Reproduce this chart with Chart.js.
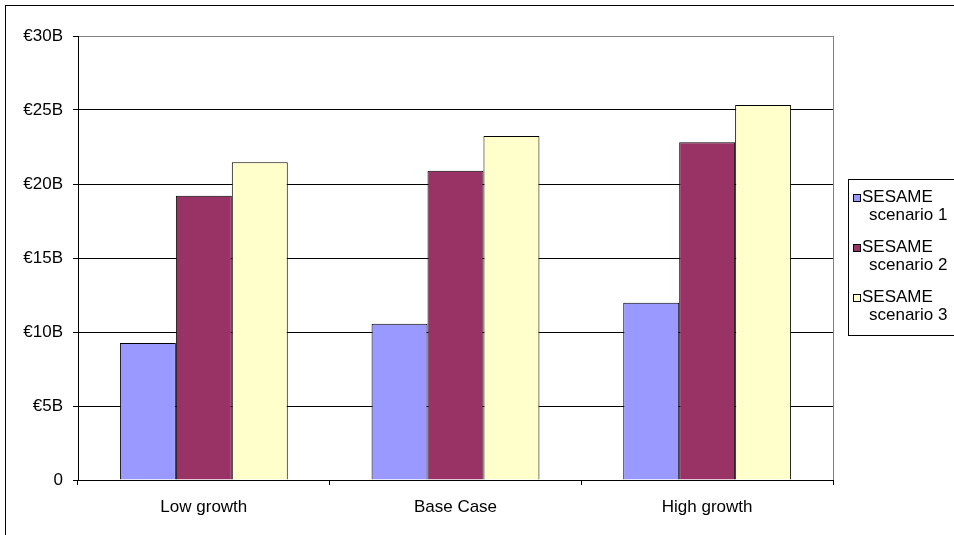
<!DOCTYPE html>
<html>
<head>
<meta charset="utf-8">
<script src="https://cdn.jsdelivr.net/npm/chart.js@4"></script>
<style>
  html, body { margin: 0; padding: 0; background: #fff; }
  #wrap { width: 954px; height: 535px; position: relative; }
</style>
</head>
<body>
<div id="wrap"><canvas id="c" width="954" height="535"></canvas></div>
<script>
const categories = ["Low growth", "Base Case", "High growth"];
const seriesNames = [["SESAME", "scenario 1"], ["SESAME", "scenario 2"], ["SESAME", "scenario 3"]];
const scenario1 = [9.26, 10.56, 11.98];
const scenario2 = [19.2, 20.9, 22.82];
const scenario3 = [21.47, 23.24, 25.34];
const yTicks = [0, 5, 10, 15, 20, 25, 30];
const colors = ["#9999FF", "#993366", "#FFFFCC"];

const FONT = "Liberation Sans, Arial, sans-serif";

const decor = {
  id: "decor",
  beforeDraw(chart) {
    const ctx = chart.ctx;
    ctx.save();
    ctx.fillStyle = "#fff";
    ctx.fillRect(0, 0, chart.width, chart.height);
    ctx.restore();
  },
  afterDraw(chart) {
    const ctx = chart.ctx;
    const a = chart.chartArea;
    ctx.save();
    // outer frame
    ctx.strokeStyle = "#000";
    ctx.lineWidth = 1;
    ctx.strokeRect(5.5, 5.5, 1000, 1000);
    // plot area right border
    ctx.strokeStyle = "#808080";
    ctx.beginPath();
    ctx.moveTo(Math.round(a.right) + 0.5, a.top);
    ctx.lineTo(Math.round(a.right) + 0.5, a.bottom);
    ctx.stroke();
    // legend
    const lx = 848, ly = 179;
    ctx.fillStyle = "#fff";
    ctx.fillRect(lx, ly, 200, 156);
    ctx.strokeStyle = "#000";
    ctx.strokeRect(lx + 0.5, ly + 0.5, 200, 156);
    ctx.font = "17px " + FONT;
    ctx.textBaseline = "alphabetic";
    ctx.textAlign = "left";
    chart.data.datasets.forEach((ds, i) => {
      const b1 = 202 + 50 * i;
      const b2 = 220 + 50 * i;
      ctx.fillStyle = ds.backgroundColor;
      ctx.fillRect(853, b1 - 7, 7, 7);
      ctx.strokeStyle = "#000";
      ctx.strokeRect(853.5, b1 - 7.5, 7, 7);
      ctx.fillStyle = "#000";
      ctx.fillText(seriesNames[i][0], 862, b1);
      ctx.fillText(seriesNames[i][1], 869, b2);
    });
    ctx.restore();
  }
};

new Chart(document.getElementById("c"), {
  type: "bar",
  data: {
    labels: categories,
    datasets: [
      { label: seriesNames[0].join(" "), data: scenario1, backgroundColor: colors[0] },
      { label: seriesNames[1].join(" "), data: scenario2, backgroundColor: colors[1] },
      { label: seriesNames[2].join(" "), data: scenario3, backgroundColor: colors[2] }
    ].map(d => Object.assign(d, {
      borderColor: "#000",
      borderWidth: 1,
      categoryPercentage: 0.667,
      barPercentage: 1.0
    }))
  },
  options: {
    responsive: false,
    animation: false,
    devicePixelRatio: 1,
    layout: { padding: { top: 36, right: 121, bottom: 0, left: 0 } },
    plugins: { legend: { display: false }, tooltip: { enabled: false } },
    scales: {
      x: {
        afterFit(s) { s.height = 55; },
        grid: { display: true, drawOnChartArea: false, offset: true, tickLength: 5, color: "#000", tickColor: "#000" },
        border: { color: "#000", width: 1 },
        ticks: { color: "#000", font: { family: FONT, size: 17 }, padding: 12, maxRotation: 0 }
      },
      y: {
        min: 0, max: 30,
        afterFit(s) { s.width = 78; },
        afterBuildTicks(s) { s.ticks = yTicks.map(v => ({ value: v })); },
        grid: {
          color: ctx => (ctx.tick && ctx.tick.value === 30 ? "#808080" : "#000"),
          tickColor: "#000",
          tickLength: 5,
          lineWidth: 1
        },
        border: { color: "#000", width: 1 },
        ticks: {
          color: "#000",
          font: { family: FONT, size: 17 },
          padding: 10,
          callback: v => (v === 0 ? "0" : "€" + v + "B")
        }
      }
    }
  },
  plugins: [decor]
});
</script>
</body>
</html>
